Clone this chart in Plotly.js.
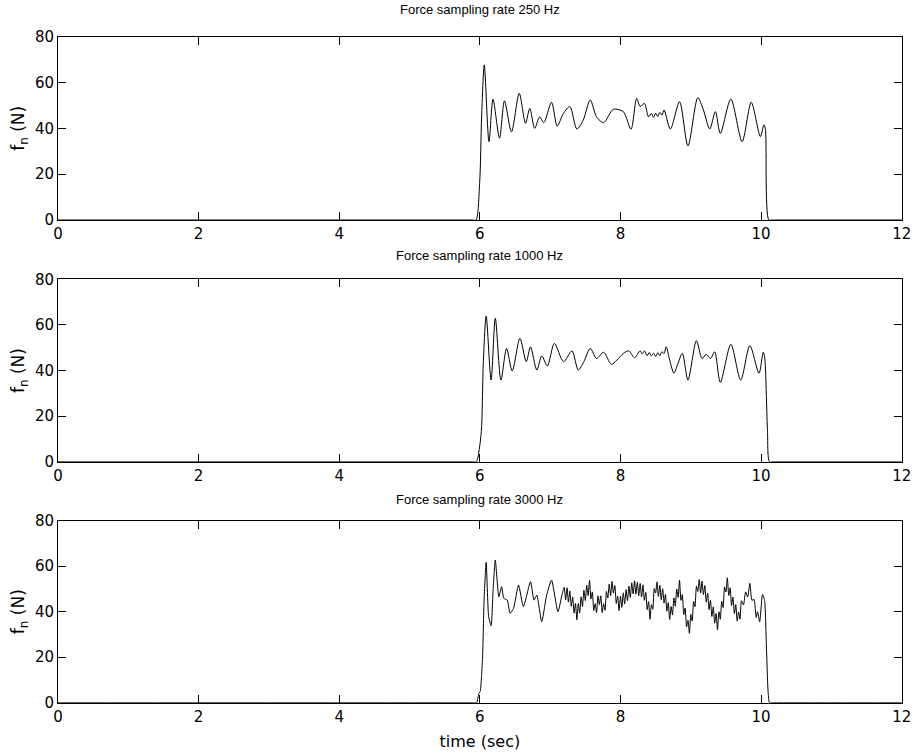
<!DOCTYPE html>
<html>
<head>
<meta charset="utf-8">
<script src="https://cdn.plot.ly/plotly-3.0.1.min.js"></script>
<style>html,body{margin:0;padding:0;background:#fff;}#chart{width:916px;height:753px;}</style>
</head>
<body>
<div id="chart"></div>
<script>
// ---- Data ----
const titles = ["Force sampling rate 250 Hz", "Force sampling rate 1000 Hz", "Force sampling rate 3000 Hz"];
const xTickVals = [0, 2, 4, 6, 8, 10, 12];
const yTickVals = [0, 20, 40, 60, 80];

// 250 Hz
const t1 = [0, 5.90, 5.945, 5.997, 6.025, 6.063, 6.13, 6.187, 6.28, 6.35, 6.45, 6.56, 6.65, 6.71, 6.78, 6.85, 6.91,
  7.02, 7.10, 7.19, 7.28, 7.38, 7.47, 7.57, 7.66, 7.76, 7.90, 8.04, 8.15, 8.23, 8.28, 8.34, 8.40, 8.44, 8.47, 8.50,
  8.53, 8.56, 8.59, 8.62, 8.71, 8.84, 8.96, 9.10, 9.18, 9.27, 9.35, 9.42, 9.57, 9.73, 9.86, 9.99, 10.04, 10.06,
  10.11, 10.16, 12];
const f1 = [0, 0, 0, 16, 45, 67.7, 34.2, 52.7, 35.7, 52, 38.5, 55.3, 42.2, 48.7, 40, 45, 42.5,
  51.4, 41, 46.6, 49.5, 39.7, 43.6, 52.4, 45, 42.5, 48.3, 47.3, 39.6, 53.1, 49.5, 50.9, 45, 46.5, 44.8, 46.6,
  45.2, 47, 45.8, 48, 39.7, 51.6, 32.3, 53.4, 48, 39.7, 47.3, 37.8, 52.8, 34.2, 51.4, 36.4, 41.5, 40,
  0, 0, 0];

// 1000 Hz
const t2 = [0, 5.90, 5.95, 6.0, 6.025, 6.05, 6.09, 6.16, 6.22, 6.30, 6.38, 6.46, 6.57, 6.66, 6.72, 6.81, 6.88, 6.96,
  7.06, 7.19, 7.31, 7.40, 7.48, 7.57, 7.66, 7.76, 7.87, 7.95, 8.04, 8.12, 8.20, 8.28, 8.31, 8.34, 8.38, 8.41, 8.44,
  8.47, 8.50, 8.53, 8.56, 8.59, 8.62, 8.65, 8.70, 8.76, 8.81, 8.88, 8.96, 9.08, 9.16, 9.22, 9.28, 9.34, 9.42, 9.57,
  9.71, 9.84, 9.97, 10.03, 10.05, 10.09, 10.12, 10.17, 12];
const f2 = [0, 0, 0, 7.3, 15.4, 43.9, 63.9, 35.8, 62.9, 35.8, 49.7, 39.8, 54.1, 43.9, 50.4, 40.2, 46.4, 42.0,
  51.9, 43.9, 48.6, 40.2, 43.9, 49.7, 45.3, 48.0, 42.7, 44.6, 47.5, 48.6, 45.6, 48.6, 47.3, 48.6, 46.5, 47.9, 46.4,
  47.6, 46.2, 47.8, 46.5, 48.2, 47.5, 50.4, 44.6, 38.8, 42.4, 47.5, 35.8, 53.1, 45.3, 47.1, 45.3, 48.2, 34.8, 51.5,
  35.8, 50.9, 38.8, 48.0, 46, 14.6, 0, 0, 0];

// 3000 Hz (dense ripple between 7.2 s and 9.7 s)
const t3 = [0, 5.90, 5.955, 5.985, 6.005, 6.025, 6.04, 6.06, 6.09, 6.125, 6.16, 6.19, 6.22, 6.27, 6.31, 6.34, 6.39,
  6.43, 6.48, 6.55, 6.62, 6.72, 6.77, 6.81, 6.88, 6.95, 7.02, 7.11, 7.17,
  7.20, 7.22, 7.24, 7.26, 7.28, 7.30, 7.32, 7.34, 7.36, 7.38, 7.40, 7.42, 7.44, 7.46, 7.48, 7.50, 7.52, 7.54, 7.56, 7.58,
  7.60, 7.62, 7.64, 7.66, 7.68, 7.70, 7.72, 7.74, 7.76, 7.78, 7.80, 7.82, 7.84, 7.86, 7.88, 7.90, 7.92, 7.94, 7.96, 7.98,
  8.00, 8.02, 8.04, 8.06, 8.08, 8.10, 8.12, 8.14, 8.16, 8.18, 8.20, 8.22, 8.24, 8.26, 8.28, 8.30, 8.32, 8.34, 8.36, 8.38,
  8.40, 8.42, 8.44, 8.46, 8.48, 8.50, 8.52, 8.54, 8.56, 8.58, 8.60, 8.62, 8.64, 8.66, 8.68, 8.70, 8.72, 8.74, 8.76, 8.78,
  8.80, 8.82, 8.84, 8.86, 8.88, 8.90, 8.92, 8.94, 8.96, 8.98, 9.00, 9.02, 9.04, 9.06, 9.08, 9.10, 9.12, 9.14, 9.16, 9.18,
  9.20, 9.22, 9.24, 9.26, 9.28, 9.30, 9.32, 9.34, 9.36, 9.38, 9.40, 9.42, 9.44, 9.46, 9.48, 9.50, 9.52, 9.54, 9.56, 9.58,
  9.60, 9.62, 9.64, 9.66, 9.68, 9.70, 9.72,
  9.75, 9.78, 9.81, 9.84, 9.87, 9.90, 9.93, 9.95, 9.98, 10.02, 10.05, 10.08, 10.12, 10.17, 12];
const f3 = [0, 0, 0, 4, 5, 12, 21, 45, 61.7, 37.8, 33.8, 50.3, 62.7, 46.6, 51, 45.9, 45.1,
  39.3, 41.5, 51.7, 42.2, 53.2, 45.1, 47.3, 35.6, 47.3, 53.9, 40, 47.6,
  50.7, 45.2, 50.5, 44.2, 49.1, 42.4, 46.5, 39.4, 43.6, 36.5, 43.6, 39.4, 46.5, 42.3, 49.4, 44.9, 51.6, 47.1, 53.8, 45.6,
  48.7, 40.5, 43.5, 39.6, 47.0, 43.1, 47.0, 39.6, 43.5, 40.6, 48.9, 46.0, 52.2, 47.1, 53.3, 48.2, 51.5, 43.6, 46.9, 40.5,
  46.8, 41.9, 48.3, 43.4, 49.7, 44.9, 51.2, 46.3, 52.7, 47.8, 53.6, 47.7, 53.0, 47.1, 52.4, 46.5, 51.8, 45.0, 48.5, 40.9,
  44.4, 36.7, 43.1, 41.1, 50.2, 48.2, 53.1, 46.7, 51.6, 45.3, 50.1, 43.8, 47.6, 40.2, 44.0, 36.6, 42.3, 38.6, 46.1, 42.4,
  50.0, 46.3, 53.8, 45.0, 47.5, 38.7, 41.6, 33.3, 36.2, 30.5, 38.8, 35.9, 44.5, 42.2, 51.2, 48.9, 54.1, 48.2, 53.4, 47.5,
  51.5, 44.2, 48.2, 40.9, 45.0, 37.9, 42.1, 35.0, 39.2, 32.1, 40.0, 36.7, 44.6, 41.8, 50.9, 48.7, 54.9, 47.1, 50.5, 42.7,
  46.4, 39.2, 43.1, 35.9, 39.9, 36.7, 44.8,
  43.0, 48.7, 46.5, 52.5, 45.0, 45.4, 37.5, 40.0, 35.5, 47.6, 45, 21, 0, 0, 0];

// ---- Chart ----
const line12 = {color: '#000', width: 1, shape: 'spline', smoothing: 0.8, simplify: false};
const line3 = {color: '#000', width: 1, shape: 'spline', smoothing: 0.5, simplify: false};
const data = [
  {x: t1, y: f1, type: 'scatter', mode: 'lines', line: line12, xaxis: 'x', yaxis: 'y', hoverinfo: 'skip'},
  {x: t2, y: f2, type: 'scatter', mode: 'lines', line: line12, xaxis: 'x2', yaxis: 'y2', hoverinfo: 'skip'},
  {x: t3, y: f3, type: 'scatter', mode: 'lines', line: line3, xaxis: 'x3', yaxis: 'y3', hoverinfo: 'skip'}
];

const TICKFONT = 'DejaVu Sans, Liberation Sans, Arial, sans-serif';
const TITLEFONT = 'Liberation Sans, Arial, Helvetica, sans-serif';
const xDom = [0.0633, 0.9844];
const yDoms = [[0.7078, 0.9513], [0.3868, 0.6291], [0.0668, 0.3085]];
const titleShift = [18, 14, 12];

function xAx(anchor, title) {
  const a = {
    domain: xDom, anchor: anchor, range: [0, 12], tickvals: xTickVals, ticktext: xTickVals.map(String),
    ticks: 'inside', ticklen: 8, tickwidth: 1, tickcolor: '#000', mirror: 'ticks', showline: true,
    linecolor: '#000', linewidth: 1, showgrid: false, zeroline: false, fixedrange: true,
    tickfont: {family: TICKFONT, size: 15, color: '#000'}
  };
  if (title) a.title = {text: title, font: {family: TICKFONT, size: 16, color: '#000'}, standoff: 11};
  return a;
}
function yAx(anchor, dom) {
  return {
    domain: dom, anchor: anchor, range: [0, 80], tickvals: yTickVals, ticktext: yTickVals.map(String),
    ticks: 'inside', ticklen: 8, tickwidth: 1, tickcolor: '#000', mirror: 'ticks', showline: true,
    linecolor: '#000', linewidth: 1, showgrid: false, zeroline: false, fixedrange: true,
    tickfont: {family: TICKFONT, size: 15, color: '#000'},
    title: {text: 'f<sub>n</sub> (N)', font: {family: TICKFONT, size: 17, color: '#000'}, standoff: 5}
  };
}

const annotations = titles.map((txt, i) => ({
  text: txt, xref: 'paper', yref: 'paper',
  x: (xDom[0] + xDom[1]) / 2, y: yDoms[i][1], xanchor: 'center', yanchor: 'bottom', yshift: titleShift[i],
  showarrow: false, font: {family: TITLEFONT, size: 13, color: '#000'}
}));

const layout = {
  width: 916, height: 753,
  margin: {l: 0, r: 0, t: 0, b: 0},
  paper_bgcolor: '#fff', plot_bgcolor: '#fff',
  showlegend: false,
  xaxis: xAx('y'), yaxis: yAx('x', yDoms[0]),
  xaxis2: xAx('y2'), yaxis2: yAx('x2', yDoms[1]),
  xaxis3: xAx('y3', 'time (sec)'), yaxis3: yAx('x3', yDoms[2]),
  annotations: annotations
};

Plotly.newPlot('chart', data, layout, {staticPlot: true, displayModeBar: false});
</script>
</body>
</html>
